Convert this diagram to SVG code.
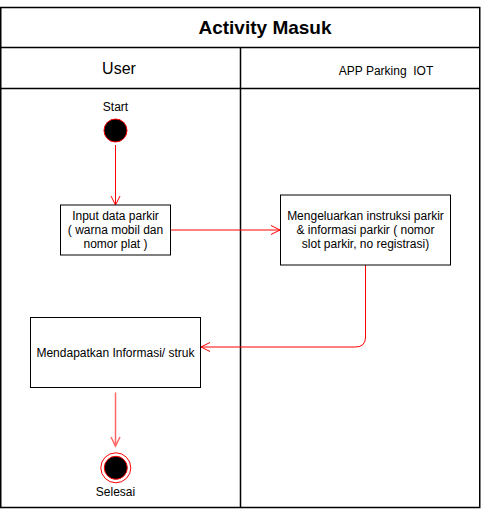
<svg xmlns="http://www.w3.org/2000/svg" width="481" height="509" viewBox="0 0 481 509">
<defs>
<style>
text{font-family:"Liberation Sans",Arial,sans-serif;fill:#000;}
.lane{fill:none;stroke:#000;stroke-width:1.5;}
.box{fill:#fff;stroke:#000;stroke-width:1;}
.lbl{font-size:12px;text-anchor:middle;}
.edge{fill:none;stroke:#ff0000;stroke-width:1;}
</style>
<marker id="arr" markerWidth="12" markerHeight="12" refX="10" refY="6" orient="auto" markerUnits="userSpaceOnUse">
<path d="M1,1.5 L10,6 L1,10.5" fill="none" stroke="#ff0000" stroke-width="1"/>
</marker>
<marker id="arr2" markerWidth="12" markerHeight="12" refX="10" refY="6" orient="auto" markerUnits="userSpaceOnUse">
<path d="M1,1.5 L10,6 L1,10.5" fill="none" stroke="#ff6666" stroke-width="1.5"/>
</marker>
</defs>
<rect width="481" height="509" fill="#fff"/>
<g id="pool">
<rect class="lane" x="0.75" y="7.5" width="479" height="500"/>
<line class="lane" x1="0.75" y1="47.5" x2="479.75" y2="47.5"/>
<line class="lane" x1="0.75" y1="88.5" x2="479.75" y2="88.5"/>
<line class="lane" x1="240.5" y1="47.5" x2="240.5" y2="507.5"/>
<text x="265" y="34" font-size="19" font-weight="bold" text-anchor="middle">Activity Masuk</text>
<text x="119" y="74" font-size="16" text-anchor="middle">User</text>
<text x="386" y="75" font-size="12" text-anchor="middle" xml:space="preserve">APP Parking  IOT</text>
</g>
<g id="connectors">
<line class="edge" x1="115.5" y1="145" x2="115.5" y2="205" marker-end="url(#arr)"/>
<line class="edge" x1="170.5" y1="230" x2="280" y2="230" marker-end="url(#arr)"/>
<path class="edge" d="M365.5,265 V337 Q365.5,347 355.5,347 H201" marker-end="url(#arr)"/>
<line x1="115.5" y1="392.5" x2="115.5" y2="446" stroke="#ff6666" stroke-width="1.5" marker-end="url(#arr2)"/>
</g>
<g id="start">
<circle cx="115.5" cy="130.5" r="11.5" fill="#000" stroke="#ff0000" stroke-width="1"/>
<text class="lbl" x="115.5" y="111">Start</text>
</g>
<g id="input">
<rect class="box" x="60.5" y="205" width="110" height="50"/>
<text class="lbl" x="115.5" y="219.5">Input data parkir</text>
<text class="lbl" x="115.5" y="233.5">( warna mobil dan</text>
<text class="lbl" x="115.5" y="247.5">nomor plat )</text>
</g>
<g id="instruksi">
<rect class="box" x="280.5" y="195" width="170" height="70"/>
<text class="lbl" x="365.5" y="219.5">Mengeluarkan instruksi parkir</text>
<text class="lbl" x="365.5" y="233.5">&amp; informasi parkir ( nomor</text>
<text class="lbl" x="365.5" y="247.5">slot parkir, no registrasi)</text>
</g>
<g id="struk">
<rect class="box" x="30.5" y="317.5" width="170" height="70"/>
<text class="lbl" x="115.5" y="356.5">Mendapatkan Informasi/ struk</text>
</g>
<g id="end">
<circle cx="115.8" cy="467.8" r="15" fill="#fff" stroke="#ff0000" stroke-width="1"/>
<circle cx="115.8" cy="467.8" r="11.5" fill="#000" stroke="#ff0000" stroke-width="1"/>
<text class="lbl" x="115.5" y="496">Selesai</text>
</g>
</svg>
